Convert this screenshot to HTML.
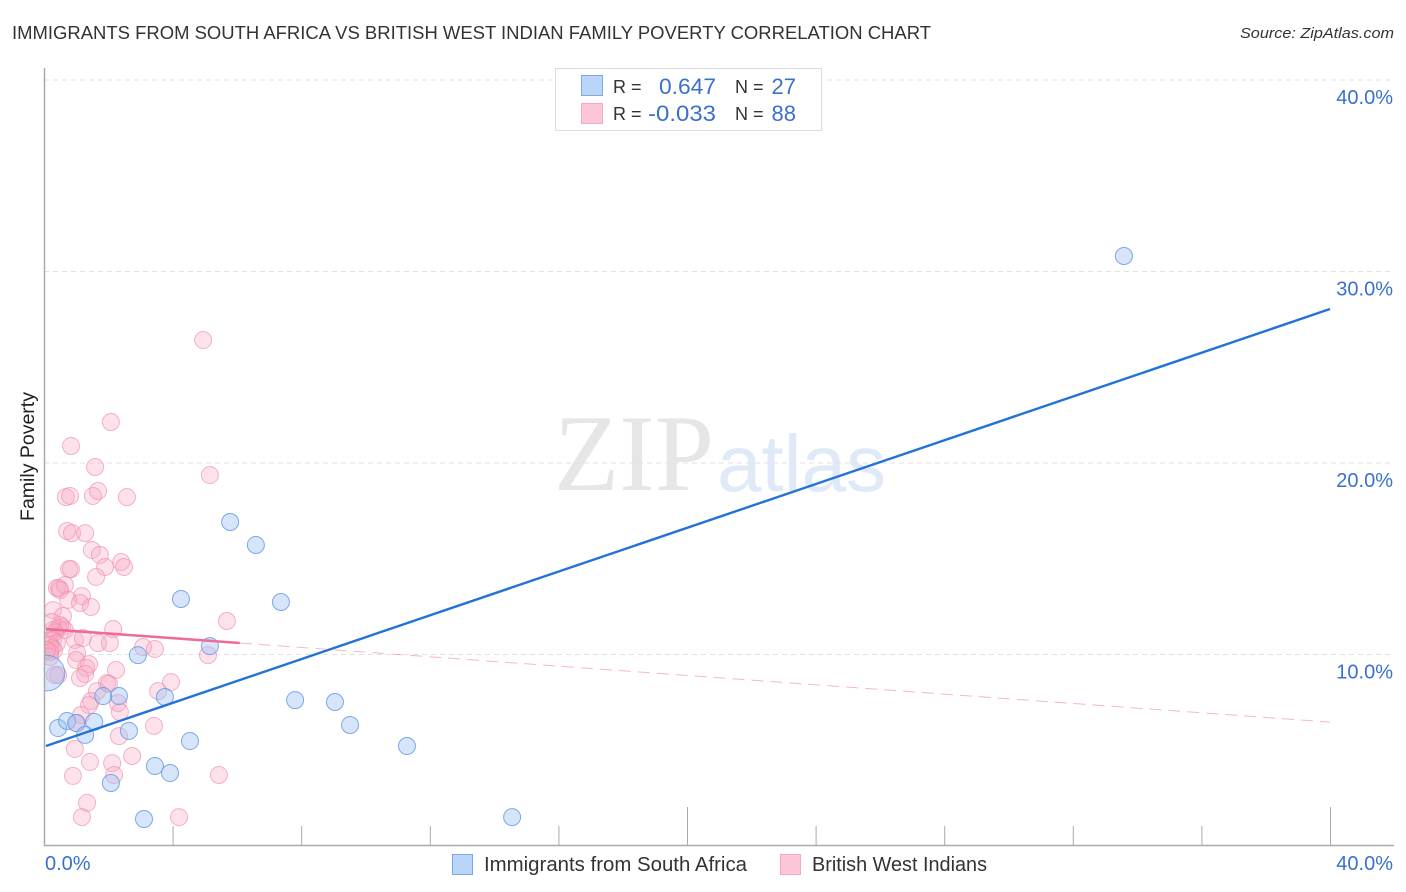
<!DOCTYPE html>
<html lang="en">
<head>
<meta charset="utf-8">
<title>Immigrants from South Africa vs British West Indian Family Poverty Correlation Chart</title>
<style>
html,body{margin:0;padding:0;background:#fff;}
body{width:1406px;height:892px;overflow:hidden;}
svg{display:block;font-family:"Liberation Sans",Arial,sans-serif;}
</style>
</head>
<body>
<svg id="chart" xmlns="http://www.w3.org/2000/svg" width="1406" height="892" viewBox="0 0 1406 892">
  <rect x="0" y="0" width="1406" height="892" fill="#ffffff"/>
  <defs>
    <clipPath id="plot-clip"><rect x="45" y="60" width="1349" height="786"/></clipPath>
  </defs>
  <text x="12" y="39" font-size="18.5" fill="#333333" textLength="919" lengthAdjust="spacingAndGlyphs">IMMIGRANTS FROM SOUTH AFRICA VS BRITISH WEST INDIAN FAMILY POVERTY CORRELATION CHART</text>
  <text x="1394" y="38" font-size="15" font-style="italic" fill="#333333" text-anchor="end" textLength="154" lengthAdjust="spacingAndGlyphs">Source: ZipAtlas.com</text>

  <g>
    <text x="554" y="490" font-family="'Liberation Serif',serif" font-size="109" fill="#e6e6e6" textLength="160" lengthAdjust="spacingAndGlyphs">ZIP</text>
    <text x="717" y="491" font-size="80" fill="#dfe9f8">atlas</text>
  </g>

  <g id="grid"></g>
  <g id="points" clip-path="url(#plot-clip)"></g>
  <g id="trends"></g>
  <g id="axes"></g>

  <text transform="translate(34,456.5) rotate(-90)" font-size="19.5" fill="#222222" text-anchor="middle">Family Poverty</text>

  <g>
    <rect x="555.5" y="68.5" width="266" height="62" fill="#ffffff" stroke="#dddddd" stroke-width="1"/>
    <rect x="581.5" y="75.5" width="21" height="20" fill="#b9d5f9" stroke="#7da8e2" stroke-width="1"/>
    <rect x="581.5" y="103.5" width="21" height="20" fill="#fdc6d8" stroke="#f4a9c2" stroke-width="1"/>
    <text x="613" y="93" font-size="18" fill="#333333">R =</text>
    <text x="659" y="94" font-size="22" fill="#3a70cc" textLength="57" lengthAdjust="spacingAndGlyphs">0.647</text>
    <text x="735" y="93" font-size="18" fill="#333333">N =</text>
    <text x="796" y="94" font-size="22" fill="#3a70cc" text-anchor="end">27</text>
    <text x="613" y="120" font-size="18" fill="#333333">R =</text>
    <text x="648" y="121" font-size="22" fill="#3a70cc" textLength="68" lengthAdjust="spacingAndGlyphs">-0.033</text>
    <text x="735" y="120" font-size="18" fill="#333333">N =</text>
    <text x="796" y="121" font-size="22" fill="#3a70cc" text-anchor="end">88</text>
  </g>

  <g>
    <rect x="452.5" y="854.5" width="20" height="20" fill="#b9d5f9" stroke="#7da8e2" stroke-width="1"/>
    <text x="484" y="871" font-size="20" fill="#333333" textLength="263" lengthAdjust="spacingAndGlyphs">Immigrants from South Africa</text>
    <rect x="780.5" y="854.5" width="20" height="20" fill="#fdc6d8" stroke="#f4a9c2" stroke-width="1"/>
    <text x="812" y="871" font-size="20" fill="#333333" textLength="175" lengthAdjust="spacingAndGlyphs">British West Indians</text>
  </g>
</svg>

<script>
const yTicks = [10, 20, 30, 40];
const yTickLabels = ["10.0%", "20.0%", "30.0%", "40.0%"];
const xTicks = [0, 4, 8, 12, 16, 20, 24, 28, 32, 36, 40];
const xMajorTicks = [0, 20, 40];
const xEdgeLabels = ["0.0%", "40.0%"];

const blueX = [33.59, 5.79, 6.59, 4.26, 7.37, 5.16, 2.92, 3.76, 2.33, 1.84, 7.81, 9.05, 9.52, 0.44, 0.72, 1.00, 1.56, 1.28, 2.64, 4.54, 3.45, 3.92, 2.08, 11.29, 3.11, 14.56, 0.09];
const blueY = [30.81, 16.92, 15.72, 12.90, 12.74, 10.44, 9.97, 7.78, 7.83, 7.83, 7.62, 7.52, 6.32, 6.16, 6.53, 6.42, 6.48, 5.80, 6.01, 5.48, 4.18, 3.81, 3.29, 5.22, 1.41, 1.51, 9.03];
const blueWeight = [1, 1, 1, 1, 1, 1, 1, 1, 1, 1, 1, 1, 1, 1, 1, 1, 1, 1, 1, 1, 1, 1, 1, 1, 1, 1, 2.1];

const pinkX = [4.95, 2.08, 0.84, 1.59, 5.16, 0.68, 0.81, 1.52, 1.68, 2.58, 0.72, 0.87, 1.28, 1.49, 1.74, 2.40, 1.90, 2.49, 0.78, 0.84, 1.62, 0.40, 0.47, 0.65, 0.50, 1.18, 0.75, 1.12, 1.46, 0.28, 0.59, 5.69, 2.15, 0.56, 0.44, 0.65, 0.28, 0.50, 0.34, 0.19, 0.28, 0.40, 0.96, 1.21, 1.68, 2.05, 3.08, 3.45, 0.19, 0.25, 0.31, 0.19, 0.19, 5.10, 1.03, 1.00, 1.40, 1.31, 1.28, 2.24, 1.12, 0.44, 0.34, 1.96, 2.02, 3.95, 3.55, 1.65, 1.46, 2.30, 1.40, 2.36, 1.15, 1.03, 3.42, 2.33, 0.96, 2.74, 1.43, 2.12, 2.18, 0.90, 5.44, 1.34, 1.18, 4.20, 0.09, 0.25];
const pinkY = [26.42, 22.14, 20.89, 19.79, 19.37, 18.22, 18.28, 18.28, 18.54, 18.22, 16.45, 16.34, 16.34, 15.46, 15.20, 14.83, 14.57, 14.57, 14.46, 14.46, 14.05, 13.47, 13.47, 13.63, 13.37, 13.05, 12.85, 12.69, 12.48, 12.32, 12.01, 11.75, 11.33, 11.44, 11.38, 11.28, 11.28, 11.54, 11.17, 10.76, 10.76, 10.60, 10.76, 10.86, 10.60, 10.60, 10.39, 10.29, 10.50, 10.34, 10.23, 10.13, 9.87, 9.97, 10.08, 9.71, 9.50, 9.30, 8.98, 9.19, 8.77, 8.93, 8.93, 8.51, 8.46, 8.56, 8.09, 8.09, 7.57, 7.47, 7.36, 7.00, 6.84, 6.42, 6.27, 5.74, 5.07, 4.70, 4.39, 4.33, 3.71, 3.66, 3.71, 2.25, 1.51, 1.51, 10.23, 11.70];

const blueTrendX = [0.06, 40];
const blueTrendY = [5.22, 28.04];
const pinkTrendX = [0.06, 6.09, 40];
const pinkTrendY = [11.33, 10.6, 6.47];

const SVG_NS = "http://www.w3.org/2000/svg";
const sx = function (v) { return 44 + v * 32.15; };
const sy = function (v) { return 846 - v * 19.15; };
const grid = document.getElementById("grid");
const axes = document.getElementById("axes");
const points = document.getElementById("points");
const trends = document.getElementById("trends");

function make(tag, parent, attrs) {
  const el = document.createElementNS(SVG_NS, tag);
  Object.keys(attrs).forEach(function (k) { el.setAttribute(k, attrs[k]); });
  parent.appendChild(el);
  return el;
}

yTicks.forEach(function (t, i) {
  const line = make("line", grid, { x1: 44, x2: 1394, y1: sy(t), y2: sy(t), stroke: "#e2e2e2", "stroke-width": 1, "stroke-dasharray": "5 4" });
  
  
  const label = make("text", axes, { x: 1393, y: sy(t) + 24, "font-size": 20, fill: "#3a70cc", "text-anchor": "end" });
  
  
  label.textContent = yTickLabels[i];
});

const yAxis = make("line", axes, { x1: 44.5, x2: 44.5, y1: 68, y2: 846, stroke: "#aaaaaa", "stroke-width": 1.5 });


const xAxis = make("line", axes, { x1: 44, x2: 1394, y1: 845.5, y2: 845.5, stroke: "#aaaaaa", "stroke-width": 1.5 });



xTicks.forEach(function (t) {
  const top = xMajorTicks.indexOf(t) >= 0 ? 807 : 826;
  const tick = make("line", axes, { x1: sx(t) + 0.5, x2: sx(t) + 0.5, y1: top, y2: 846, stroke: "#aaaaaa", "stroke-width": 1 });
  
  
});

const xLabelLeft = make("text", axes, { x: 45, y: 870, "font-size": 20, fill: "#3a70cc" });


xLabelLeft.textContent = xEdgeLabels[0];
const xLabelRight = make("text", axes, { x: 1393, y: 870, "font-size": 20, fill: "#3a70cc", "text-anchor": "end" });


xLabelRight.textContent = xEdgeLabels[1];

pinkX.forEach(function (x, i) {
  const c = make("circle", points, { cx: sx(x), cy: sy(pinkY[i]), r: 8.5, fill: "#f9a8c2", "fill-opacity": 0.33, stroke: "#ec8eac", "stroke-opacity": 0.65, "stroke-width": 1 });
  
  
});

blueX.forEach(function (x, i) {
  const c = make("circle", points, { cx: sx(x), cy: sy(blueY[i]), r: 8.5 * blueWeight[i], fill: "#9dc1f3", "fill-opacity": 0.42, stroke: "#689be2", "stroke-opacity": 0.85, "stroke-width": 1 });
  
  
});

const blueTrend = make("line", trends, { x1: sx(blueTrendX[0]), y1: sy(blueTrendY[0]), x2: sx(blueTrendX[1]), y2: sy(blueTrendY[1]), stroke: "#2272d8", "stroke-width": 2.4 });



const pinkTrend = make("line", trends, { x1: sx(pinkTrendX[0]), y1: sy(pinkTrendY[0]), x2: sx(pinkTrendX[1]), y2: sy(pinkTrendY[1]), stroke: "#ee6a9a", "stroke-width": 2.6 });



const pinkDash = make("line", trends, { x1: sx(pinkTrendX[1]), y1: sy(pinkTrendY[1]), x2: sx(pinkTrendX[2]), y2: sy(pinkTrendY[2]), stroke: "#f08fb0", "stroke-width": 1, "stroke-dasharray": "12 7", "stroke-opacity": 0.65 });


</script>
</body>
</html>
